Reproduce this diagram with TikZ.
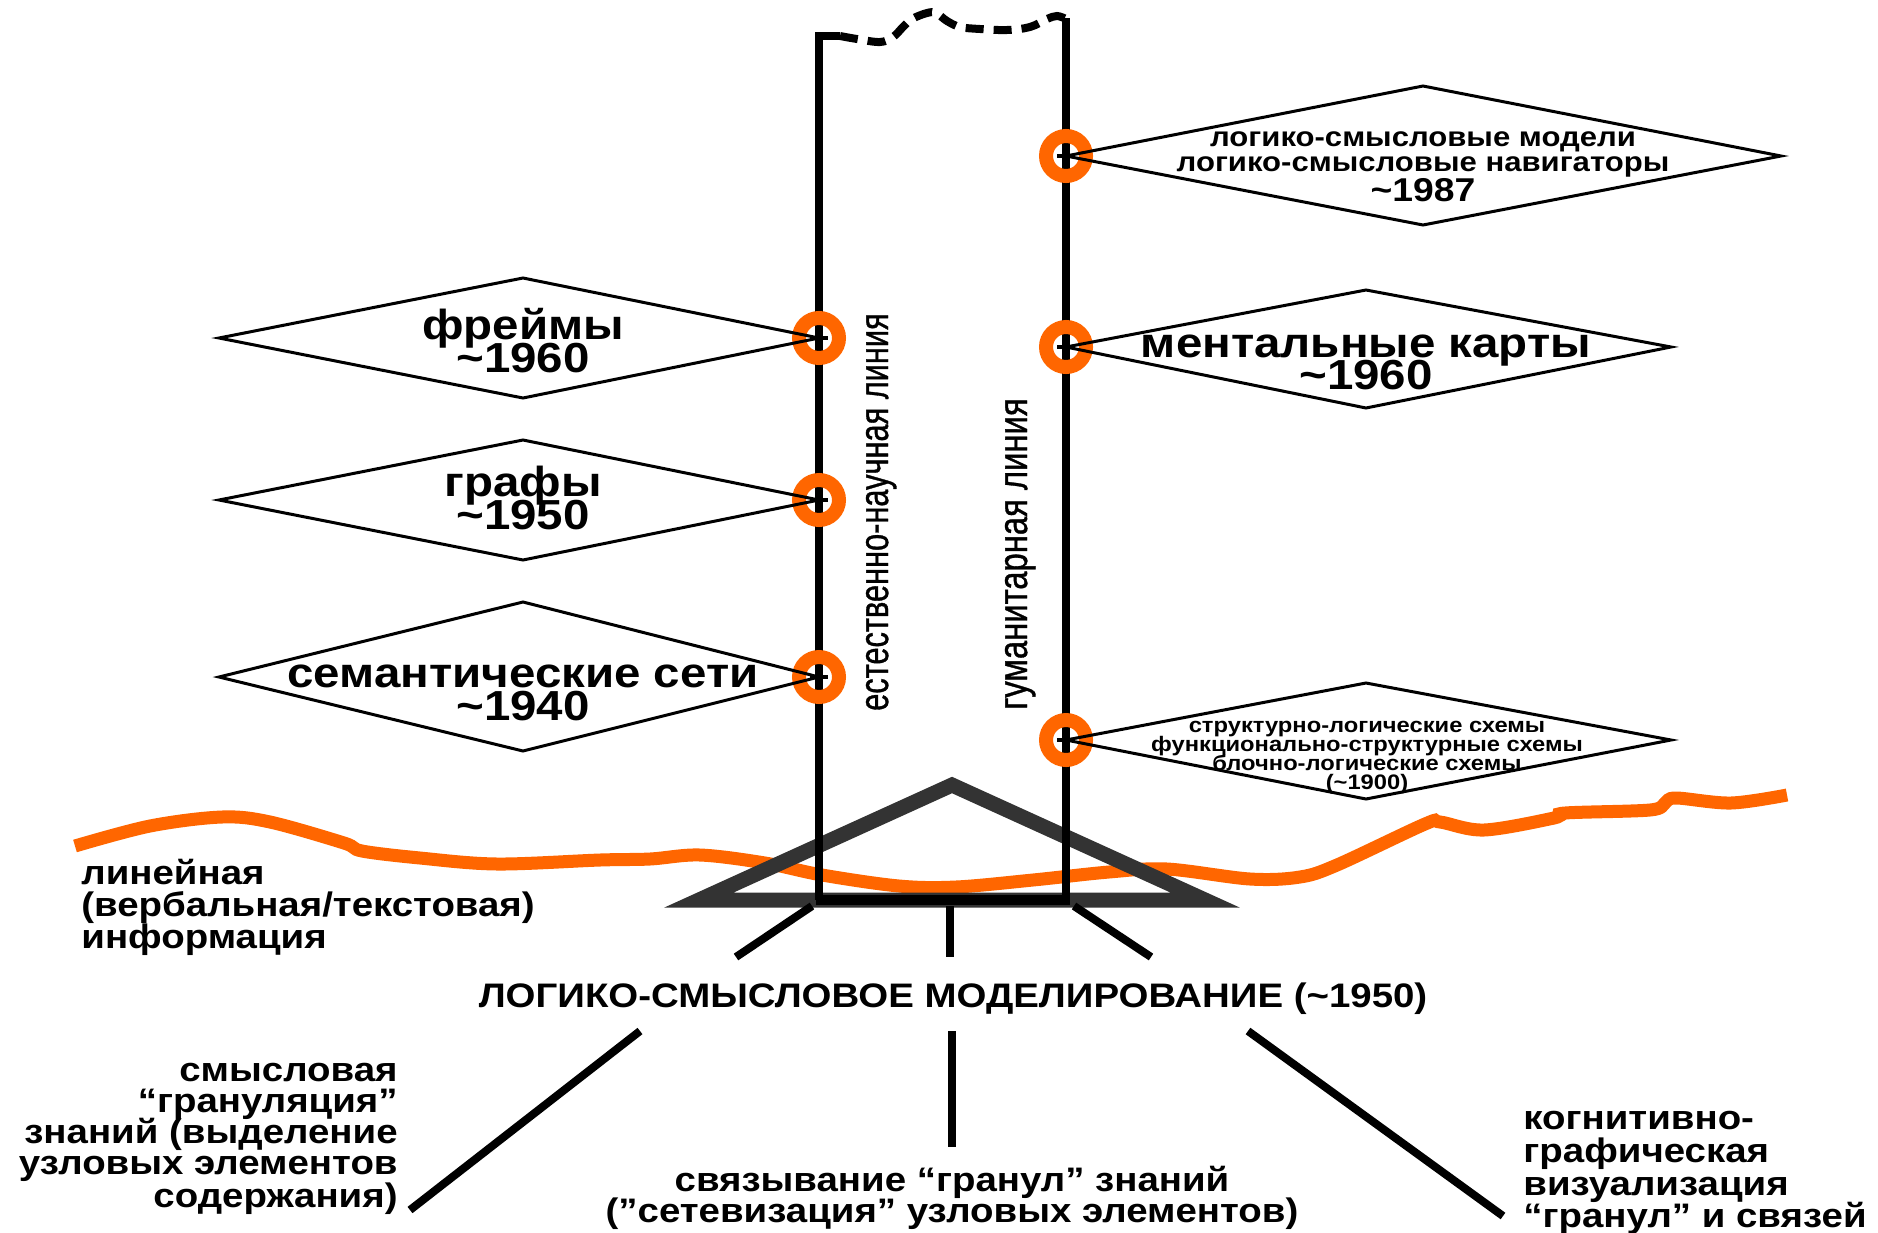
\documentclass[tikz,border=0pt]{standalone}
\usepackage{fontspec}
\setmainfont{Liberation Sans}[FakeStretch=1.13]
\newfontfamily\narrowsans{Liberation Sans}[FakeStretch=0.75, FakeBold=0.8]
\newfontfamily\narrowsansb{Liberation Sans}[FakeStretch=0.8, FakeBold=0.8]
\definecolor{stripe}{RGB}{255,102,0}
\definecolor{roof}{RGB}{51,51,51}
\tikzset{
  axisline/.style={line width=4pt, line join=miter},
  dashtop/.style={line width=4pt, dash pattern=on 9pt off 5pt},
  dia/.style={line width=1.5pt, line join=miter},
  ring/.style={circle, draw=stripe, line width=7pt, minimum size=20pt, inner sep=0pt},
  tick/.style={line width=1.6pt},
  branch/.style={line width=4pt},
  bigt/.style={font=\bfseries\fontsize{21pt}{18pt}\selectfont, inner sep=0pt, anchor=base},
  midt/.style={font=\bfseries\fontsize{13.75pt}{14pt}\selectfont, inner sep=0pt, anchor=base},
  yeart/.style={font=\bfseries\fontsize{16.5pt}{16pt}\selectfont, inner sep=0pt, anchor=base},
  smallt/.style={font=\bfseries\fontsize{10.5pt}{10pt}\selectfont, inner sep=0pt, anchor=base},
  bodyt/.style={font=\bfseries\fontsize{17pt}{16pt}\selectfont, inner sep=0pt},
  vert/.style={inner sep=0pt, anchor=base, rotate=90}
}
\begin{document}
\begin{tikzpicture}[x=0.5pt,y=-0.5pt]
\useasboundingbox (0,0) rectangle (1878,1232);

% orange boundary of linear information
\draw[stripe, line width=6.5pt] plot[smooth, tension=0.55] coordinates {
  (75,846) (150,826) (222,817) (270,822) (344,843) (362,851) (420,858)
  (497,864) (600,860) (650,859) (700,855) (765,863) (822,875) (899,886)
  (956,887) (1033,880) (1109,872) (1167,869) (1250,879) (1300,877)
  (1337,865) (1425,824) (1440,822) (1484,830) (1554,818) (1565,813)
  (1650,810) (1665,803) (1676,798) (1731,803) (1787,795)};

% roof triangle
\coordinate (apex) at (952,785);
\coordinate (roofL) at (699,900);
\coordinate (roofR) at (1205,900);
\draw[roof, line width=7.5pt, line join=miter] (roofL) -- (apex) -- (roofR) -- cycle;

% pillars
\coordinate (pLtop) at (819,36);
\coordinate (pLbot) at (819,900);
\coordinate (pRtop) at (1066,18);
\coordinate (pRbot) at (1066,900);
\draw[axisline] (840,36) -- (pLtop) -- (pLbot);
\draw[axisline] (pRtop) -- (pRbot);
\draw[dashtop] plot[smooth, tension=0.6] coordinates {
  (840,36) (857,39) (880,42) (893,37) (903,27) (912,19) (927,13) (936,13)
  (947,21) (960,27) (980,29) (1007,30) (1030,27) (1047,19) (1057,16) (1066,19)};
\draw[line width=5pt] (816,900) -- (1070,900);

% branches to the modelling label
\coordinate (bL) at (812,906);
\coordinate (bM) at (950,906);
\coordinate (bR) at (1074,906);
\coordinate (eL) at (736,957);
\coordinate (eM) at (950,957);
\coordinate (eR) at (1151,957);
\draw[branch] (bL) -- (eL);
\draw[branch] (bM) -- (eM);
\draw[branch] (bR) -- (eR);

\node[bodyt, anchor=base] (lsm) at (953,1007) {ЛОГИКО-СМЫСЛОВОЕ МОДЕЛИРОВАНИЕ (\textasciitilde1950)};

\coordinate (fL) at (640,1031);
\coordinate (fM) at (952,1031);
\coordinate (fR) at (1248,1031);
\coordinate (gL) at (410,1210);
\coordinate (gM) at (952,1147);
\coordinate (gR) at (1503,1216);
\draw[branch] (fL) -- (gL);
\draw[branch] (fM) -- (gM);
\draw[branch] (fR) -- (gR);

% timeline markers
\node[ring] (c1) at (819,338) {};
\node[ring] (c2) at (819,500) {};
\node[ring] (c3) at (819,677) {};
\node[ring] (c4) at (1066,156) {};
\node[ring] (c5) at (1066,347) {};
\node[ring] (c6) at (1066,740) {};

% diamonds, left branch
\draw[dia] (219,338) -- (523,278) -- (c1.center) -- (523,398) -- cycle;
\draw[dia] (219,500) -- (523,440) -- (c2.center) -- (523,560) -- cycle;
\draw[dia] (219,677) -- (523,602) -- (c3.center) -- (523,751) -- cycle;
% diamonds, right branch
\draw[dia] (c4.center) -- (1423,86) -- (1781,156) -- (1423,225) -- cycle;
\draw[dia] (c5.center) -- (1366,290) -- (1671,347) -- (1366,408) -- cycle;
\draw[dia] (c6.center) -- (1366,683) -- (1671,740) -- (1366,799) -- cycle;

\foreach \c in {c1,c2,c3,c4,c5,c6}{
  \draw[tick] ([xshift=-4.5pt]\c.center) -- ([xshift=4.5pt]\c.center);
}

% diamond labels
\node[bigt] (t1a) at (523,339) {фреймы};
\node[bigt] (t1b) at (523,372) {\textasciitilde1960};
\node[bigt] (t2a) at (523,496) {графы};
\node[bigt] (t2b) at (523,529) {\textasciitilde1950};
\node[bigt] (t3a) at (523,687) {семантические сети};
\node[bigt] (t3b) at (523,720) {\textasciitilde1940};

\node[midt] (t4a) at (1423,146) {логико-смысловые модели};
\node[midt] (t4b) at (1423,171) {логико-смысловые навигаторы};
\node[yeart] (t4c) at (1423,201) {\textasciitilde1987};
\node[bigt] (t5a) at (1366,357) {ментальные карты};
\node[bigt] (t5b) at (1366,389) {\textasciitilde1960};
\node[smallt] (t6a) at (1367,732) {структурно-логические схемы};
\node[smallt] (t6b) at (1367,751) {функционально-структурные схемы};
\node[smallt] (t6c) at (1367,770) {блочно-логические схемы};
\node[smallt] (t6d) at (1367,789) {(\textasciitilde1900)};

% line names
\node[vert, font={\narrowsans\fontsize{20.5pt}{20pt}\selectfont}] (vsci) at (888,512) {естественно-научная линия};
\node[vert, font={\narrowsansb\fontsize{20.5pt}{20pt}\selectfont}] (vhum) at (1027,554) {гуманитарная линия};

% linear information
\node[bodyt, anchor=base west] (li1) at (81,884) {линейная};
\node[bodyt, anchor=base west] (li2) at (81,916) {(вербальная/текстовая)};
\node[bodyt, anchor=base west] (li3) at (81,948) {информация};

% bottom captions
\node[bodyt, anchor=base east] (gr1) at (398,1081) {смысловая};
\node[bodyt, anchor=base east] (gr2) at (398,1112) {“грануляция”};
\node[bodyt, anchor=base east] (gr3) at (398,1143) {знаний (выделение};
\node[bodyt, anchor=base east] (gr4) at (398,1174) {узловых элементов};
\node[bodyt, anchor=base east] (gr5) at (398,1207) {содержания)};

\node[bodyt, anchor=base] (nw1) at (952,1191) {связывание “гранул” знаний};
\node[bodyt, anchor=base] (nw2) at (952,1222) {(”сетевизация” узловых элементов)};

\node[bodyt, anchor=base west] (cg1) at (1523,1129) {когнитивно-};
\node[bodyt, anchor=base west] (cg2) at (1523,1162) {графическая};
\node[bodyt, anchor=base west] (cg3) at (1523,1195) {визуализация};
\node[bodyt, anchor=base west] (cg4) at (1523,1227) {“гранул” и связей};
\end{tikzpicture}
\end{document}
